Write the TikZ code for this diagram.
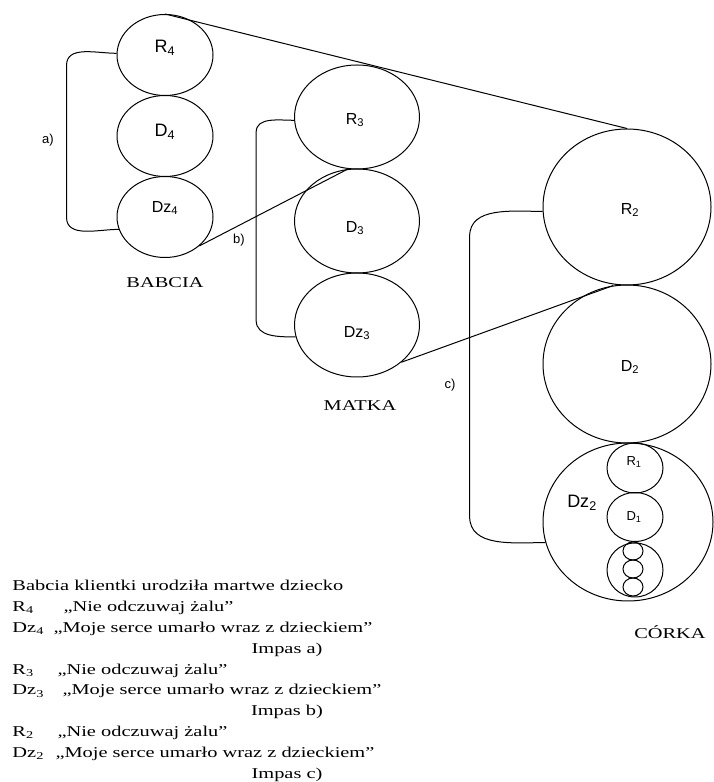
\documentclass[tikz,border=0pt]{standalone}
\usepackage{fontspec}
\setmainfont{Liberation Serif}
\newfontfamily\wideserif{Liberation Serif}[FakeStretch=1.36]
\newfontfamily\labsans{Liberation Sans}
\usetikzlibrary{shapes.geometric,calc,positioning}

\begin{document}
\begin{tikzpicture}[x=1pt,y=1pt,line width=1pt,
		ring/.style={draw,ellipse,inner sep=0pt},
		tag/.style={inner sep=0pt,font=\labsans\fontsize{#1}{#1}\selectfont},
		who/.style={inner sep=0pt,font=\wideserif\fontsize{15}{18}\selectfont},
		row/.style={inner sep=0pt,anchor=base west,font=\wideserif\fontsize{15}{18}\selectfont}]
		\useasboundingbox (0,0) rectangle (713,782);
		
		% babcia
		\node[ring,minimum width=96pt,minimum height=81pt] (R4) at (165,727) {};
		\node[ring,minimum width=96pt,minimum height=81pt] (D4) at (165,646) {};
		\node[ring,minimum width=96pt,minimum height=81pt] (Dz4) at (165,565) {};
		\node[tag=18] (r4t) at (165,734) {R\textsubscript{4}};
		\node[tag=18] (d4t) at (165,650) {D\textsubscript{4}};
		\node[tag=16] (dz4t) at (165,574) {Dz\textsubscript{4}};
		\node[who] (babcia) at (165,499) {BABCIA};
		
		% matka
		\node[ring,minimum width=125pt,minimum height=104pt] (R3) at (357,665) {};
		\node[ring,minimum width=125pt,minimum height=104pt] (D3) at (357,561) {};
		\node[ring,minimum width=125pt,minimum height=104pt] (Dz3) at (357,457) {};
		\node[tag=16] (r3t) at (355,662) {R\textsubscript{3}};
		\node[tag=16] (d3t) at (355,554) {D\textsubscript{3}};
		\node[tag=16] (dz3t) at (357,449) {Dz\textsubscript{3}};
		\node[who] (matka) at (360,376) {MATKA};
		
		% corka
		\node[ring,minimum width=168pt,minimum height=156pt] (R2) at (627,575) {};
		\node[ring,minimum width=168pt,minimum height=158pt] (D2) at (627,418) {};
		\node[ring,minimum width=170pt,minimum height=158pt] (Dz2) at (628,260) {};
		\node[ring,minimum width=56pt,minimum height=50pt] (R1) at (635,314) {};
		\node[ring,minimum width=56pt,minimum height=49pt] (D1) at (635,265) {};
		\node[ring,minimum width=56pt,minimum height=54pt] (Dz1) at (635,212) {};
		\node[ring,minimum width=20pt,minimum height=18pt] (e1) at (633,231) {};
		\node[ring,minimum width=20pt,minimum height=18pt] (e2) at (633,213) {};
		\node[ring,minimum width=20pt,minimum height=18pt] (e3) at (633,195) {};
		\node[tag=16] (r2t) at (630,572) {R\textsubscript{2}};
		\node[tag=16] (d2t) at (630,415) {D\textsubscript{2}};
		\node[tag=18] (dz2t) at (582,279) {Dz\textsubscript{2}};
		\node[tag=13] (r1t) at (634,320) {R\textsubscript{1}};
		\node[tag=13] (d1t) at (634,265) {D\textsubscript{1}};
		\node[who] (corka) at (670,150) {CÓRKA};
		
		\draw (R4.north) -- (R2.north);
		\draw (Dz4.-40) -- (D3.100);
		\draw (Dz3.-40) -- (D2.100);
		
		\draw (R4.178) to[out=180,in=90] ++(-50,-12) -- ++(0,-152) to[out=-90,in=180] (Dz4.195);
		\draw (R3.183) to[out=180,in=90] ++(-38,-12) -- ++(0,-188) to[out=-90,in=180] (Dz3.191);
		\draw (R2.183) to[out=180,in=90] ++(-73,-25) -- ++(0,-280) to[out=-90,in=180] (Dz2.194);
		\node[tag=13] (a) at (48,642) {a)};
		\node[tag=13] (b) at (239,542) {b)};
		\node[tag=13] (c) at (450,397) {c)};
		
		% opis
		\node[row] (t1) at (12,191) {Babcia klientki urodziła martwe dziecko};
		\node[row] (t2) at (12,170.2) {R\textsubscript{4}};
		\node[row] (q2) at (63,170.2) {„Nie odczuwaj żalu”};
		\node[row] (t3) at (12,149.4) {Dz\textsubscript{4}};
		\node[row] (q3) at (53,149.4) {„Moje serce umarło wraz z dzieckiem”};
		\node[row,anchor=base] (i1) at (287,128.6) {Impas a)};
		\node[row] (t5) at (12,107.8) {R\textsubscript{3}};
		\node[row] (q5) at (57,107.8) {„Nie odczuwaj żalu”};
		\node[row] (t6) at (12,87) {Dz\textsubscript{3}};
		\node[row] (q6) at (62,87) {„Moje serce umarło wraz z dzieckiem”};
		\node[row,anchor=base] (i2) at (287,66.2) {Impas b)};
		\node[row] (t8) at (12,45.4) {R\textsubscript{2}};
		\node[row] (q8) at (57,45.4) {„Nie odczuwaj żalu”};
		\node[row] (t9) at (12,24.6) {Dz\textsubscript{2}};
		\node[row] (q9) at (55,24.6) {„Moje serce umarło wraz z dzieckiem”};
		\node[row,anchor=base] (i3) at (287,3.8) {Impas c)};
		\end{tikzpicture}
\end{document}
